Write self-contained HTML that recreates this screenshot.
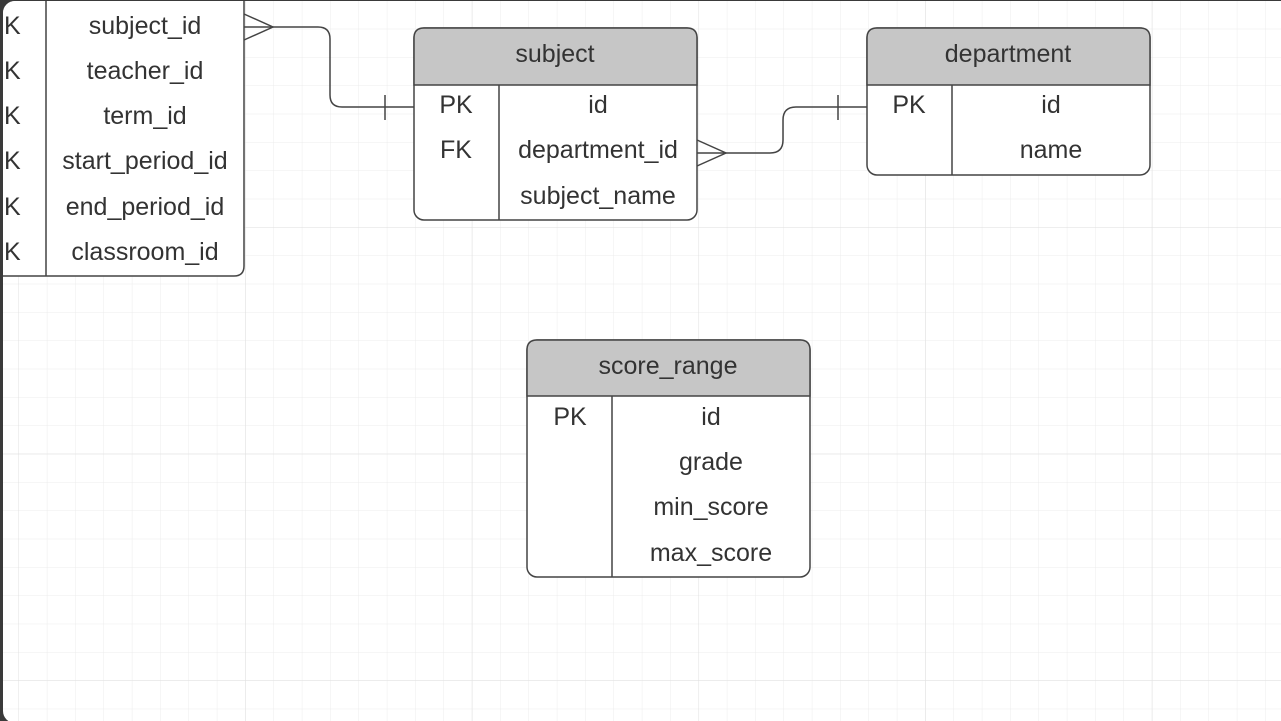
<!DOCTYPE html>
<html><head><meta charset="utf-8"><style>
html,body{margin:0;padding:0;background:#3a3a3a;}
svg{display:block;}
text{font-family:"Liberation Sans",Arial,sans-serif;font-size:25px;fill:#333;}
</style></head><body>
<svg width="1281" height="721" viewBox="0 0 1281 721" xmlns="http://www.w3.org/2000/svg">
<defs>
<pattern id="g" x="18.5" y="0.4" width="28.333" height="28.333" patternUnits="userSpaceOnUse">
<path d="M0 0V28.333M0 0H28.333" stroke="#ececec" stroke-width="1" fill="none"/>
</pattern>
<pattern id="G" x="18.5" y="0.4" width="226.67" height="226.67" patternUnits="userSpaceOnUse">
<path d="M0 0V226.67M0 0H226.67" stroke="#e0e0e0" stroke-width="1" fill="none"/>
</pattern>
<clipPath id="c"><rect x="3" y="1" width="1290" height="722" rx="12"/></clipPath>
</defs>
<rect width="1281" height="721" fill="#3a3a3a"/>
<g clip-path="url(#c)">
<rect x="0" y="0" width="1281" height="721" fill="#fff"/>
<rect x="0" y="0" width="1281" height="721" fill="url(#g)"/>
<rect x="0" y="0" width="1281" height="721" fill="url(#G)"/>

<g stroke="#444" stroke-width="1.5" fill="none">
<path d="M244 27H318Q330 27 330 39V95Q330 107 342 107H414"/>
<path d="M244 14L273 27L244 40"/>
<path d="M385 95V120"/>
<path d="M697 153H770Q783 153 783 140V120Q783 107 796 107H867"/>
<path d="M697 140L726 153L697 166"/>
<path d="M838 95V120"/>
</g>

<path d="M-5 -10H244V266Q244 276 234 276H-5Z" fill="#fff" stroke="#444" stroke-width="1.5"/>
<line x1="46" y1="0" x2="46" y2="276" stroke="#444" stroke-width="1.5"/>
<g>
<text x="4" y="34">K</text><text x="145" y="34" text-anchor="middle">subject_id</text>
<text x="4" y="79">K</text><text x="145" y="79" text-anchor="middle">teacher_id</text>
<text x="4" y="124">K</text><text x="145" y="124" text-anchor="middle">term_id</text>
<text x="4" y="169">K</text><text x="145" y="169" text-anchor="middle">start_period_id</text>
<text x="4" y="215">K</text><text x="145" y="215" text-anchor="middle">end_period_id</text>
<text x="4" y="260">K</text><text x="145" y="260" text-anchor="middle">classroom_id</text>
</g>

<rect x="414" y="28" width="283" height="192" rx="10" fill="#fff" stroke="#444" stroke-width="1.5"/>
<path d="M414 85V38Q414 28 424 28H687Q697 28 697 38V85Z" fill="#c6c6c6" stroke="#444" stroke-width="1.5"/>
<line x1="499" y1="85" x2="499" y2="220" stroke="#444" stroke-width="1.5"/>
<text x="555" y="62" text-anchor="middle">subject</text>
<text x="456" y="113" text-anchor="middle">PK</text><text x="598" y="113" text-anchor="middle">id</text>
<text x="456" y="158" text-anchor="middle">FK</text><text x="598" y="158" text-anchor="middle">department_id</text>
<text x="598" y="204" text-anchor="middle">subject_name</text>

<rect x="867" y="28" width="283" height="147" rx="10" fill="#fff" stroke="#444" stroke-width="1.5"/>
<path d="M867 85V38Q867 28 877 28H1140Q1150 28 1150 38V85Z" fill="#c6c6c6" stroke="#444" stroke-width="1.5"/>
<line x1="952" y1="85" x2="952" y2="175" stroke="#444" stroke-width="1.5"/>
<text x="1008" y="62" text-anchor="middle">department</text>
<text x="909" y="113" text-anchor="middle">PK</text><text x="1051" y="113" text-anchor="middle">id</text>
<text x="1051" y="158" text-anchor="middle">name</text>

<rect x="527" y="340" width="283" height="237" rx="10" fill="#fff" stroke="#444" stroke-width="1.5"/>
<path d="M527 396V350Q527 340 537 340H800Q810 340 810 350V396Z" fill="#c6c6c6" stroke="#444" stroke-width="1.5"/>
<line x1="612" y1="396" x2="612" y2="577" stroke="#444" stroke-width="1.5"/>
<text x="668" y="374" text-anchor="middle">score_range</text>
<text x="570" y="425" text-anchor="middle">PK</text><text x="711" y="425" text-anchor="middle">id</text>
<text x="711" y="470" text-anchor="middle">grade</text>
<text x="711" y="515" text-anchor="middle">min_score</text>
<text x="711" y="561" text-anchor="middle">max_score</text>
</g>
</svg>
</body></html>
